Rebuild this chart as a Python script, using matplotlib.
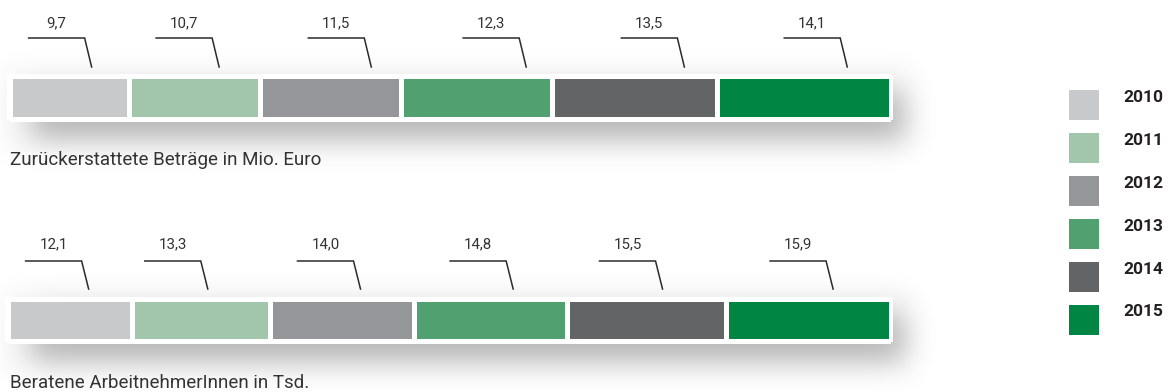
import math
import numpy as np
import matplotlib
matplotlib.use("Agg")
import matplotlib.pyplot as plt
from matplotlib.patches import Rectangle

# ---------------- data ----------------
years = ["2010", "2011", "2012", "2013", "2014", "2015"]
refunds = [9.7, 10.7, 11.5, 12.3, 13.5, 14.1]          # Mio. Euro
advised = [12.1, 13.3, 14.0, 14.8, 15.5, 15.9]          # Tsd.
value_labels_top = ["9,7", "10,7", "11,5", "12,3", "13,5", "14,1"]
value_labels_bottom = ["12,1", "13,3", "14,0", "14,8", "15,5", "15,9"]
captions = ["Zurückerstattete Beträge in Mio. Euro",
            "Beratene ArbeitnehmerInnen in Tsd."]

# ---------------- style ----------------
colors = ["#c8c9cb", "#a2c6ab", "#959699", "#50a070", "#636466", "#008542"]
plt.rcParams["font.family"] = ["Roboto", "DejaVu Sans"]
TXT = "#333333"
W, H = 1170, 392
DPI = 100

fig = plt.figure(figsize=(W / DPI, H / DPI), dpi=DPI)
fig.patch.set_facecolor("white")
bg = fig.add_axes([0, 0, 1, 1])
bg.set_xlim(0, W)
bg.set_ylim(H, 0)
bg.axis("off")


def erf(a):
    return np.array([math.erf(v) for v in a])


shadow_alpha = np.zeros((H, W))


def add_shadow(x0, x1, y0, y1, s, amax):
    global shadow_alpha
    xs = np.arange(W) + 0.5
    ys = np.arange(H) + 0.5
    fx = 0.5 * (erf((xs - x0) / (s * 1.414)) - erf((xs - x1) / (s * 1.414)))
    fy = 0.5 * (erf((ys - y0) / (s * 1.414)) - erf((ys - y1) / (s * 1.414)))
    a = np.outer(fy, fx) * amax
    shadow_alpha = 1 - (1 - shadow_alpha) * (1 - a)


rows = [
    dict(vals=refunds, labels=value_labels_top, ax_x=(9.5, 890.5), yc=97, h=43,
         frame=(7, 74.5, 893, 119.5), yb=(92, 138), yamb=(68, 150),
         fracs=[0.69, 0.69, 0.79, 0.83, 0.80, 0.75],
         ylab=23, yh=38, ye=67, cap_y=160),
    dict(vals=advised, labels=value_labels_bottom, ax_x=(7.5, 890.5), yc=319.5, h=42,
         frame=(5, 296.5, 893, 341.5), yb=(314, 360), yamb=(290, 372),
         fracs=[0.65, 0.55, 0.63, 0.65, 0.60, 0.65],
         ylab=244, yh=261, ye=289, cap_y=383),
]

for i, r in enumerate(rows):
    add_shadow(32, 904, r["yb"][0], r["yb"][1], 14, 0.36)
    add_shadow(4, 912, r["yamb"][0], r["yamb"][1], 12, 0.05)
    fx0, fy0, fx1, fy1 = r["frame"]
    bg.add_patch(Rectangle((fx0, fy0), fx1 - fx0, fy1 - fy0, facecolor="white",
                           edgecolor="none", zorder=2))
    bg.text(10, r["cap_y"], captions[i], fontsize=13.5, color=TXT,
            ha="left", va="center", zorder=3)

    vals = r["vals"]
    total = sum(vals)
    ax0, ax1 = r["ax_x"]
    ax = fig.add_axes([ax0 / W, 0, (ax1 - ax0) / W, 1])
    ax.set_xlim(0, total)
    ax.set_ylim(H, 0)
    ax.axis("off")
    ax.patch.set_visible(False)
    lefts = np.concatenate([[0], np.cumsum(vals)[:-1]])
    ax.barh(r["yc"], vals, left=lefts, height=r["h"], color=colors,
            edgecolor="white", linewidth=5 * 72 / DPI, zorder=3)
    k = total / (ax1 - ax0)
    for j, (lft, v) in enumerate(zip(lefts, vals)):
        ex = lft + r["fracs"][j] * v
        ax.plot([ex - 63 * k, ex - 7 * k, ex], [r["yh"], r["yh"], r["ye"]],
                color="#2b2b2b", lw=1.1, solid_joinstyle="miter", clip_on=False,
                zorder=4)
        ax.text(ex - 35 * k, r["ylab"], r["labels"][j], fontsize=10.8, color=TXT,
                ha="center", va="center", zorder=4)

img = np.zeros((H, W, 4))
img[..., 0] = img[..., 1] = img[..., 2] = 0.25
img[..., 3] = np.clip(shadow_alpha, 0, 1)
bg.imshow(img, extent=(0, W, H, 0), interpolation="nearest", zorder=1,
          aspect="auto")
bg.set_xlim(0, W)
bg.set_ylim(H, 0)

for j, (yr, c) in enumerate(zip(years, colors)):
    y0 = 90 + 43 * j
    bg.add_patch(Rectangle((1069, y0), 30, 30, facecolor=c, edgecolor="none",
                           zorder=3))
    bg.text(1123, y0 + 7, yr, fontsize=12.5, fontweight="bold", color="#231f20",
            ha="left", va="center", zorder=3)

fig.savefig("out.png", dpi=DPI)
